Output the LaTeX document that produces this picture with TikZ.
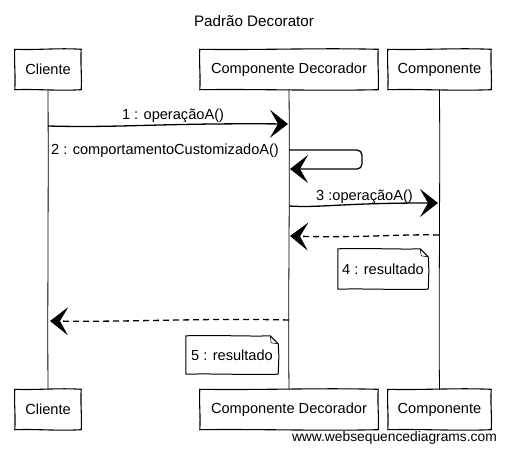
\documentclass[tikz,border=0pt]{standalone}
\usepackage{fontspec}
\setmainfont{Liberation Sans}
\usetikzlibrary{calc,arrows.meta}
\newcommand\handbox[1]{%
  \draw[boxline] (#1.north west)
    .. controls ($(#1.north west)!0.35!(#1.north east)+(0,0.9)$) and ($(#1.north west)!0.65!(#1.north east)+(0,-1.5)$) .. (#1.north east)
    .. controls ($(#1.north east)!0.35!(#1.south east)+(-0.9,0)$) and ($(#1.north east)!0.7!(#1.south east)+(0.9,0)$) .. (#1.south east)
    .. controls ($(#1.south east)!0.35!(#1.south west)+(0,1.4)$) and ($(#1.south east)!0.65!(#1.south west)+(0,-0.8)$) .. (#1.south west)
    .. controls ($(#1.south west)!0.35!(#1.north west)+(0.9,0)$) and ($(#1.south west)!0.7!(#1.north west)+(-0.9,0)$) .. (#1.north west) -- cycle;}
\newcommand\handnote[1]{%
  \draw[noteline] (#1.north west)
    .. controls ($(#1.north west)!0.4!(#1.north east)+(0,-0.8)$) and ($(#1.north west)!0.7!(#1.north east)+(0,0.8)$) .. ($(#1.north east)+(-8,0)$)
    -- ($(#1.north east)+(0,8)$)
    .. controls ($(#1.north east)!0.5!(#1.south east)+(0.8,0)$) .. (#1.south east)
    .. controls ($(#1.south east)!0.4!(#1.south west)+(0,0.8)$) and ($(#1.south east)!0.7!(#1.south west)+(0,-0.8)$) .. (#1.south west)
    .. controls ($(#1.south west)!0.5!(#1.north west)+(-0.8,0)$) .. (#1.north west) -- cycle;
  \draw[line width=0.6pt] ($(#1.north east)+(-8,0)$) -- ($(#1.north east)+(-7,7)$) -- ($(#1.north east)+(0,8)$);}
\begin{document}
\begin{tikzpicture}[x=1pt,y=-1pt,
  every node/.style={font=\fontsize{14.6}{17}\selectfont},
  actor/.style={draw=none,minimum height=40pt,inner sep=0pt},
  boxline/.style={line width=1.1pt},
  noteline/.style={line width=1pt},
  note/.style={draw=none,inner sep=0pt},
  life/.style={line width=0.8pt},
  msg/.style={line width=1.3pt,-{Stealth[length=18pt,width=28pt,inset=8pt]}},
  ret/.style={msg,dash pattern=on 6pt off 4pt},
  lbl/.style={inner sep=0pt}]
\useasboundingbox[fill=white] (0,0) rectangle (506,454);

\node[inner sep=0pt,font=\fontsize{15.2}{18}\selectfont] (title) at (254,21.5) {Padrão Decorator};

% top actors
\node[actor,minimum width=66pt] (c1) at (48,69.5) {Cliente};
\node[actor,minimum width=178pt] (d1) at (289,69.5) {Componente Decorador};
\node[actor,minimum width=103pt] (p1) at (439.5,69.5) {Componente};
% bottom actors
\node[actor,minimum width=66pt] (c2) at (48,409.5) {Cliente};
\node[actor,minimum width=178pt] (d2) at (289,409.5) {Componente Decorador};
\node[actor,minimum width=103pt] (p2) at (439.5,409.5) {Componente};

% lifelines
\draw[life] (c1.south) .. controls (48.6,200) and (47.4,300) .. (c2.north);
\draw[life] (d1.south) .. controls (290,200) and (288,300) .. (d2.north);
\draw[life] (p1.south) .. controls (440.2,200) and (438.6,300) .. (p2.north);

\foreach \n in {c1,d1,p1,c2,d2,p2}{\handbox{\n}}

% message anchor points
\coordinate (m1s) at (48,126);
\coordinate (m1e) at (288,124);
\coordinate (m2s) at (289,150);
\coordinate (m2a) at (362,150);
\coordinate (m2b) at (362,169);
\coordinate (m2e) at (290,169);
\coordinate (m3s) at (289,206);
\coordinate (m3e) at (438,203);
\coordinate (m4s) at (439,235);
\coordinate (m4e) at (290,236);
\coordinate (m5s) at (289,320);
\coordinate (m5e) at (50,321);

\draw[msg] (m1s) .. controls (120,128) and (160,123) .. (m1e);
\node[lbl] (l1) at (173,116) {1 : operaçãoA()};

\draw[msg,rounded corners=5pt] (m2s) -- (m2a) -- (m2b) -- (m2e);
\node[lbl] (l2) at (165,150.5) {2 : comportamentoCustomizadoA()};

\draw[msg] (m3s) .. controls (320,208) and (340,203) .. (m3e);
\node[lbl] (l3) at (364.5,196.5) {3 :operaçãoA()};

\draw[ret] (m4s) .. controls (400,234) and (360,238) .. (m4e);
\node[note,minimum width=90pt,minimum height=40pt] (n4) at (383,269) {4 : resultado};
\handnote{n4}

\draw[ret] (m5s) .. controls (200,318) and (140,322) .. (m5e);
\node[note,minimum width=92pt,minimum height=38pt] (n5) at (232,355) {5 : resultado};
\handnote{n5}

\node[inner sep=0pt,anchor=east,font=\fontsize{13.8}{16}\selectfont] (wm) at (497,438) {www.websequencediagrams.com};
\end{tikzpicture}
\end{document}
